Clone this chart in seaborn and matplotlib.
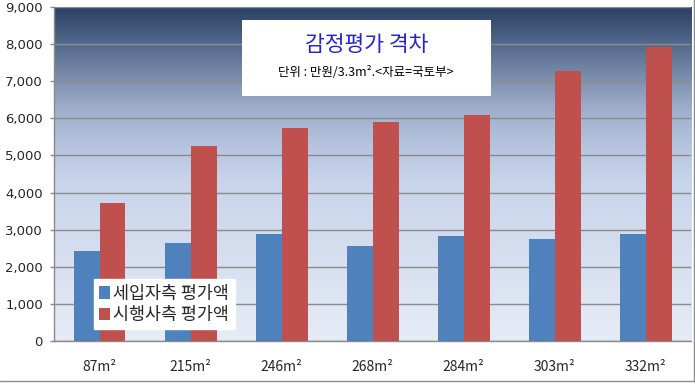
import numpy as np
import pandas as pd
import matplotlib
matplotlib.use("Agg")
import matplotlib.pyplot as plt
import seaborn as sns
from matplotlib.colors import LinearSegmentedColormap
from matplotlib.lines import Line2D
from matplotlib.patches import Rectangle

# chart data
sizes = ["87m²", "215m²", "246m²", "268m²", "284m²", "303m²", "332m²"]
tenant_vals = [2430, 2640, 2890, 2560, 2830, 2750, 2890]
developer_vals = [3720, 5240, 5750, 5900, 6100, 7280, 7920]
series_names = ["세입자측 평가액", "시행사측 평가액"]
y_ticks = [0, 1000, 2000, 3000, 4000, 5000, 6000, 7000, 8000, 9000]

df = pd.DataFrame({
    "size": sizes * 2,
    "value": tenant_vals + developer_vals,
    "series": [series_names[0]] * len(sizes) + [series_names[1]] * len(sizes),
})

sns.set_style("white")
plt.rcParams["font.family"] = ["Noto Sans CJK KR", "DejaVu Sans"]

fig = plt.figure(figsize=(6.95, 3.84), dpi=100)
ax = fig.add_axes([0.0777, 0.112, 0.917, 0.870])

sns.barplot(data=df, x="size", y="value", hue="series",
            palette=["#4F81BD", "#C0504D"], width=0.57, gap=0,
            saturation=1, linewidth=0, ax=ax, zorder=3)

# gradient background of the plot area
grad_cmap = LinearSegmentedColormap.from_list("bg", [
    (0.0, "#E6ECF6"),
    (0.25, "#D6DFEF"),
    (0.48, "#C8D4EB"),
    (0.58, "#B6C4DF"),
    (0.70, "#9DADC9"),
    (0.80, "#7789A8"),
    (0.90, "#4F6587"),
    (1.0, "#2A4063"),
])
grad = np.linspace(0, 1, 256).reshape(-1, 1)
ax.imshow(grad, extent=[0, 1, 0, 1], transform=ax.transAxes, origin="lower",
          aspect="auto", cmap=grad_cmap, zorder=0)

ax.set_xlim(-0.5, len(sizes) - 0.5)
ax.set_ylim(0, 9000)
ax.set_yticks(y_ticks)
ax.set_yticklabels([f"{v:,}" for v in y_ticks], family="DejaVu Sans")
ax.yaxis.grid(True, color="#8A8A8A", linewidth=1)
for line in ax.get_ygridlines():
    line.set_zorder(1)

ax.set_xlabel("")
ax.set_ylabel("")
ax.set_xticks(np.arange(-0.5, len(sizes)), minor=True)
ax.tick_params(axis="x", which="major", length=0, pad=14, labelsize=10)
ax.tick_params(axis="x", which="minor", length=4, color="#8A8A8A", width=1)
ax.tick_params(axis="y", length=3, color="#8A8A8A", width=1, pad=5, labelsize=9.5,
               left=True)

for side in ["top", "right"]:
    ax.spines[side].set_visible(False)
for side in ["left", "bottom"]:
    ax.spines[side].set_color("#8A8A8A")
    ax.spines[side].set_linewidth(1)

# legend
handles, labels = ax.get_legend_handles_labels()
leg = ax.legend(handles, labels, loc="lower left", bbox_to_anchor=(0.062, 0.035),
                frameon=True, fancybox=False, framealpha=1, edgecolor="white",
                facecolor="white", fontsize=12.5, handlelength=0.65, handleheight=0.75,
                handletextpad=0.2, labelspacing=0.2, borderpad=0.3, borderaxespad=0)
leg.set_zorder(5)

# title box
fig.add_artist(Rectangle((0.348, 0.750), 0.359, 0.198, transform=fig.transFigure,
                         facecolor="white", edgecolor="none", zorder=6))
fig.text(0.527, 0.883, "감정평가 격차", ha="center", va="center", fontsize=15.5,
         color="#2424C8", zorder=7)
fig.text(0.527, 0.810, "단위 : 만원/3.3m².<자료=국토부>", ha="center", va="center",
         fontsize=9, color="black", zorder=7)

# outer frame lines
fig.add_artist(Line2D([0, 0.998], [0.008, 0.008], transform=fig.transFigure,
                      color="#8A8A8A", linewidth=1))
fig.add_artist(Line2D([0.998, 0.998], [0.008, 1], transform=fig.transFigure,
                      color="#8A8A8A", linewidth=1))

fig.savefig("out.png", dpi=100)
